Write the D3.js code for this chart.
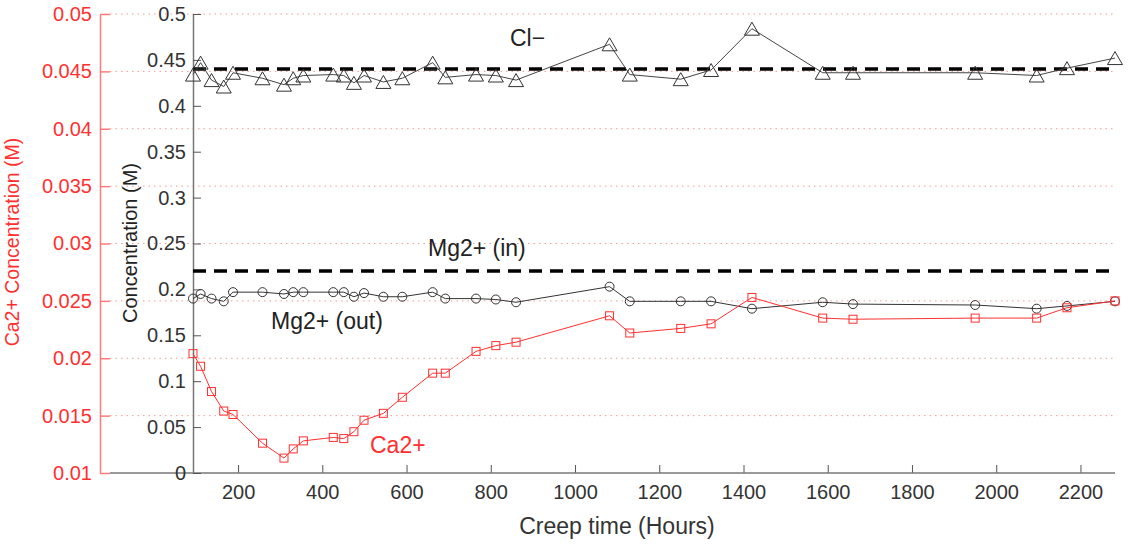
<!DOCTYPE html>
<html>
<head>
<meta charset="utf-8">
<script src="https://cdn.jsdelivr.net/npm/d3@7"></script>
<style>
  body { margin: 0; background: #fff; }
  text { font-family: "Liberation Sans", Arial, sans-serif; }
</style>
</head>
<body>
<div id="content"></div>
<script>
// datas
const hours = [93, 111, 137, 166, 188, 258, 309, 331, 355, 426, 451, 475, 499, 545, 590, 662, 692, 765, 812, 860,
               1082, 1130, 1251, 1323, 1420, 1588, 1660, 1950, 2096, 2168, 2282];
const caConc = [0.0204, 0.0193, 0.0171, 0.0154, 0.0151, 0.0126, 0.0113, 0.0121, 0.0128, 0.0131, 0.0130, 0.0136,
                0.0146, 0.0152, 0.0166, 0.0187, 0.0187, 0.0206, 0.0211, 0.0214, 0.0237, 0.0222, 0.0226, 0.0230,
                0.0253, 0.0235, 0.0234, 0.0235, 0.0235, 0.0244, 0.0250];
const mgOut = [0.190, 0.195, 0.190, 0.187, 0.197, 0.197, 0.195, 0.197, 0.197, 0.197, 0.197, 0.192, 0.196, 0.192,
               0.192, 0.197, 0.190, 0.190, 0.189, 0.186, 0.203, 0.187, 0.187, 0.187, 0.179, 0.186, 0.184, 0.183,
               0.179, 0.182, 0.187];
const clConc = [0.434, 0.447, 0.428, 0.421, 0.436, 0.430, 0.423, 0.430, 0.433, 0.434, 0.433, 0.425, 0.433, 0.426,
                0.430, 0.447, 0.431, 0.434, 0.433, 0.428, 0.467, 0.434, 0.429, 0.439, 0.484, 0.436, 0.436, 0.436,
                0.433, 0.441, 0.452];
const clIn = 0.44;
const mgIn = 0.22;
const xTicks = [200, 400, 600, 800, 1000, 1200, 1400, 1600, 1800, 2000, 2200];
const blackTicks = [0, 0.05, 0.1, 0.15, 0.2, 0.25, 0.3, 0.35, 0.4, 0.45, 0.5];
const redTicks = [0.01, 0.015, 0.02, 0.025, 0.03, 0.035, 0.04, 0.045, 0.05];

// view
const w = 1128;
const h = 545;
const plotL = 193, plotR = 1115, plotT = 14, plotB = 473;
const redAxisX = 100;
const red = "#ff3030";

const svg = d3.select("#content")
  .append("svg")
  .attr("width", w)
  .attr("height", h);

const x = d3.scaleLinear().domain([93, 2282]).range([plotL, plotR]);
const yB = d3.scaleLinear().domain([0, 0.5]).range([plotB, plotT]);
const yR = d3.scaleLinear().domain([0.01, 0.05]).range([plotB, plotT]);

// grid (red dotted)
svg.append("g")
  .selectAll("line")
  .data(redTicks.slice(1))
  .enter()
  .append("line")
  .attr("x1", redAxisX + 10)
  .attr("x2", plotR)
  .attr("y1", d => yR(d))
  .attr("y2", d => yR(d))
  .attr("stroke", "#f59a9a")
  .attr("stroke-width", 1)
  .attr("stroke-dasharray", "1.5,4");

// x axis
const gx = svg.append("g").attr("transform", `translate(0,${plotB})`)
  .call(d3.axisBottom(x).tickValues(xTicks).tickFormat(d3.format("d"))
    .tickSizeInner(-8).tickSizeOuter(0).tickPadding(12));
gx.select(".domain").remove();
gx.selectAll(".tick line").attr("stroke", "#555");
gx.selectAll("text").attr("font-size", 20).attr("fill", "#333");
svg.append("line")
  .attr("x1", redAxisX + 10).attr("x2", plotR)
  .attr("y1", plotB).attr("y2", plotB)
  .attr("stroke", "#777").attr("stroke-width", 1.5);

// black y axis
const gy = svg.append("g").attr("transform", `translate(${plotL},0)`)
  .call(d3.axisLeft(yB).tickValues(blackTicks).tickFormat(d => d).tickSizeInner(-8).tickSizeOuter(0).tickPadding(7));
gy.select(".domain").attr("stroke", "#777").attr("stroke-width", 1.5);
gy.selectAll(".tick line").attr("stroke", "#555");
gy.selectAll("text").attr("font-size", 20).attr("fill", "#333");

// red y axis
const gr = svg.append("g").attr("transform", `translate(${redAxisX},0)`)
  .call(d3.axisLeft(yR).tickValues(redTicks).tickFormat(d => d).tickSizeInner(-10).tickSizeOuter(0).tickPadding(8));
gr.select(".domain").attr("stroke", "#ff7a7a").attr("stroke-width", 1.5);
gr.selectAll(".tick line").attr("stroke", "#ff7a7a").attr("stroke-width", 1.5);
gr.selectAll("text").attr("font-size", 20).attr("fill", red);

// dashed initial concentrations
[clIn, mgIn].forEach(v => {
  svg.append("line")
    .attr("x1", x(93)).attr("x2", x(2282))
    .attr("y1", yB(v)).attr("y2", yB(v))
    .attr("stroke", "#000")
    .attr("stroke-width", 3.5)
    .attr("stroke-dasharray", "13,8");
});

const lineB = d3.line().x((d, i) => x(hours[i])).y(d => yB(d));
const lineR = d3.line().x((d, i) => x(hours[i])).y(d => yR(d));

// Mg2+ (out)
svg.append("path")
  .attr("d", lineB(mgOut))
  .attr("fill", "none").attr("stroke", "#333").attr("stroke-width", 1);
svg.selectAll("circle.mg")
  .data(mgOut)
  .enter()
  .append("circle")
  .attr("class", "mg")
  .attr("cx", (d, i) => x(hours[i]))
  .attr("cy", d => yB(d))
  .attr("r", 4.5)
  .attr("fill", "none").attr("stroke", "#333").attr("stroke-width", 1);

// Cl-
svg.append("path")
  .attr("d", lineB(clConc))
  .attr("fill", "none").attr("stroke", "#444").attr("stroke-width", 1);
svg.selectAll("path.cl")
  .data(clConc)
  .enter()
  .append("path")
  .attr("class", "cl")
  .attr("d", "M0,-6.5L7.5,6.5L-7.5,6.5Z")
  .attr("transform", (d, i) => `translate(${x(hours[i])},${yB(d)})`)
  .attr("fill", "none").attr("stroke", "#333").attr("stroke-width", 1);

// Ca2+
svg.append("path")
  .attr("d", lineR(caConc))
  .attr("fill", "none").attr("stroke", red).attr("stroke-width", 1);
svg.selectAll("rect.ca")
  .data(caConc)
  .enter()
  .append("rect")
  .attr("class", "ca")
  .attr("x", (d, i) => x(hours[i]) - 4)
  .attr("y", d => yR(d) - 4)
  .attr("width", 8)
  .attr("height", 8)
  .attr("fill", "none").attr("stroke", red).attr("stroke-width", 1);

// labels
const ann = [
  {t: "Cl\u2212", x: 510, y: 46, c: "#222"},
  {t: "Mg2+ (in)", x: 428, y: 256, c: "#222"},
  {t: "Mg2+ (out)", x: 271, y: 329, c: "#222"},
  {t: "Ca2+", x: 370, y: 453, c: red}
];
svg.selectAll("text.ann")
  .data(ann)
  .enter()
  .append("text")
  .attr("class", "ann")
  .attr("x", d => d.x)
  .attr("y", d => d.y)
  .attr("font-size", 23)
  .attr("fill", d => d.c)
  .text(d => d.t);

svg.append("text")
  .attr("x", 617).attr("y", 534)
  .attr("text-anchor", "middle")
  .attr("font-size", 23)
  .attr("fill", "#333")
  .text("Creep time (Hours)");

svg.append("text")
  .attr("transform", "translate(19,242) rotate(-90)")
  .attr("text-anchor", "middle")
  .attr("font-size", 19.5)
  .attr("fill", red)
  .text("Ca2+ Concentration (M)");

svg.append("text")
  .attr("transform", "translate(137,243) rotate(-90)")
  .attr("text-anchor", "middle")
  .attr("font-size", 20)
  .attr("fill", "#222")
  .text("Concentration (M)");
</script>
</body>
</html>
